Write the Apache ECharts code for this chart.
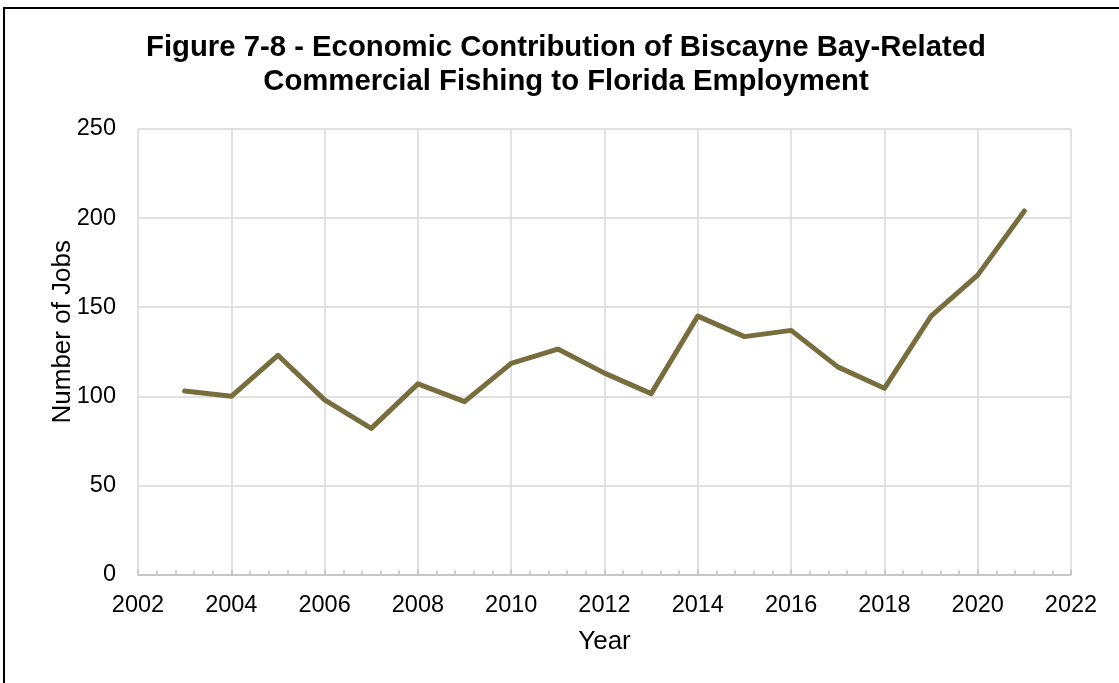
<!DOCTYPE html>
<html>
<head>
<meta charset="utf-8">
<script src="https://cdn.jsdelivr.net/npm/echarts@6/dist/echarts.min.js"></script>
<style>
html,body{margin:0;padding:0;background:#fff;}
#chart{width:1119px;height:683px;}
</style>
</head>
<body>
<div id="chart"></div>
<script>
const years = [2003, 2004, 2005, 2006, 2007, 2008, 2009, 2010, 2011, 2012, 2013, 2014, 2015, 2016, 2017, 2018, 2019, 2020, 2021];
const jobs = [103, 100, 123, 98, 82, 107, 97, 118.5, 126.5, 113, 101.5, 145, 133.5, 137, 116.5, 104.5, 145, 168, 204];
const titleText = 'Figure 7-8 - Economic Contribution of Biscayne Bay-Related\nCommercial Fishing to Florida Employment';

const chart = echarts.init(document.getElementById('chart'));
const font = '"Liberation Sans", Arial, sans-serif';
chart.setOption({
  animation: false,
  backgroundColor: '#fff',
  textStyle: { fontFamily: font },
  title: {
    text: titleText,
    left: 566,
    textAlign: 'center',
    top: 31,
    itemGap: 0,
    padding: 0,
    textStyle: { fontFamily: font, fontSize: 29.3, fontWeight: 'bold', color: '#000', lineHeight: 34 }
  },
  graphic: [{
    type: 'rect',
    shape: { x: 4, y: 8, width: 1300, height: 900 },
    style: { fill: 'none', stroke: '#000', lineWidth: 2 },
    silent: true
  }],
  grid: { left: 138, right: 48, top: 129, bottom: 108.5, containLabel: false },
  xAxis: {
    type: 'value',
    min: 2002, max: 2022, interval: 2,
    name: 'Year',
    nameLocation: 'middle',
    nameGap: 54,
    nameMoveOverlap: false,
    nameTextStyle: { fontFamily: font, fontSize: 26, color: '#000' },
    axisLine: { show: true, lineStyle: { color: '#bfbfbf', width: 1.5 } },
    axisTick: { show: true, inside: true, length: 5, lineStyle: { color: '#bfbfbf', width: 1.5 } },
    minorTick: { show: true, splitNumber: 5, length: 4, lineStyle: { color: '#bfbfbf', width: 1.5 } },
    axisLabel: { fontFamily: font, fontSize: 23.5, color: '#000', margin: 19, formatter: v => String(v) },
    splitLine: { show: true, lineStyle: { color: '#d9d9d9', width: 1.5 } }
  },
  yAxis: {
    type: 'value',
    min: 0, max: 250, interval: 50,
    name: 'Number of Jobs',
    nameLocation: 'middle',
    nameGap: 62,
    nameMoveOverlap: false,
    nameTextStyle: { fontFamily: font, fontSize: 26, color: '#000', padding: [0, 0, 0, 40] },
    axisLine: { show: false },
    axisTick: { show: false },
    axisLabel: { fontFamily: font, fontSize: 23.5, color: '#000', margin: 22 },
    splitLine: { show: true, lineStyle: { color: '#d9d9d9', width: 1.5 } }
  },
  series: [{
    type: 'line',
    data: years.map((y, i) => [y, jobs[i]]),
    symbol: 'none',
    lineStyle: { color: '#786d3d', width: 5, cap: 'round', join: 'round' }
  }]
});
</script>
</body>
</html>
